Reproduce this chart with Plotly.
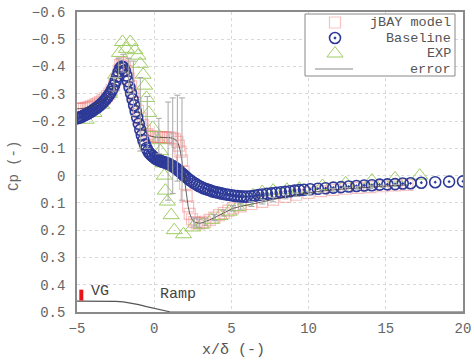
import plotly.graph_objects as go

# ---------------- data ----------------
base_x = [-5.0, -4.9, -4.8, -4.7, -4.6, -4.5, -4.4, -4.3, -4.2, -4.1, -4.0, -3.9, -3.8, -3.7, -3.6,
          -3.5, -3.4, -3.3, -3.2, -3.1, -3.0, -2.9, -2.8, -2.7, -2.6, -2.5, -2.4, -2.3, -2.2, -2.1,
          -2.0, -1.9, -1.8, -1.7, -1.6, -1.5, -1.4, -1.3, -1.2, -1.1, -1.0, -0.9, -0.8, -0.7, -0.6,
          -0.5, -0.4, -0.3, -0.2, -0.1, 0.0, 0.1, 0.2, 0.3, 0.4, 0.5, 0.6, 0.7, 0.8, 0.9,
          1.0, 1.1, 1.2, 1.3, 1.4, 1.5, 1.6, 1.7, 1.8, 1.9, 2.0, 2.15, 2.3, 2.45, 2.6,
          2.75, 2.9, 3.05, 3.2, 3.35, 3.5, 3.65, 3.8, 3.95, 4.1, 4.25, 4.4, 4.6, 4.8, 5.0,
          5.2, 5.4, 5.6, 5.8, 6.0, 6.25, 6.5, 6.75, 7.0, 7.3, 7.6, 7.9, 8.2, 8.5, 8.8,
          9.1, 9.4, 9.7, 10.1, 10.6, 11.1, 11.6, 12.1, 12.6, 13.1, 13.6, 14.1, 14.6, 15.1, 15.6,
          16.1, 16.6, 17.3, 18.2, 19.1, 20.0]
base_cp = [-0.210, -0.212, -0.214, -0.216, -0.219, -0.222, -0.225, -0.228, -0.231, -0.234, -0.238, -0.242, -0.246, -0.250, -0.254,
           -0.259, -0.264, -0.270, -0.276, -0.283, -0.290, -0.298, -0.307, -0.318, -0.331, -0.346, -0.363, -0.380, -0.394, -0.400,
           -0.397, -0.385, -0.367, -0.346, -0.324, -0.302, -0.280, -0.258, -0.236, -0.213, -0.190, -0.168, -0.148, -0.130, -0.114,
           -0.101, -0.090, -0.082, -0.076, -0.071, -0.066, -0.062, -0.059, -0.056, -0.054, -0.052, -0.050, -0.048, -0.046, -0.044,
           -0.041, -0.038, -0.035, -0.031, -0.027, -0.023, -0.018, -0.013, -0.008, -0.003, 0.002, 0.009, 0.016, 0.022, 0.028,
           0.033, 0.038, 0.042, 0.046, 0.049, 0.052, 0.055, 0.058, 0.060, 0.062, 0.064, 0.066, 0.068, 0.070, 0.072,
           0.074, 0.075, 0.076, 0.077, 0.077, 0.076, 0.074, 0.071, 0.069, 0.067, 0.065, 0.063, 0.061, 0.059, 0.057,
           0.055, 0.053, 0.052, 0.050, 0.048, 0.046, 0.044, 0.042, 0.040, 0.038, 0.036, 0.035, 0.033, 0.032, 0.031,
           0.029, 0.028, 0.026, 0.024, 0.022, 0.021]

jbay_x = [-5.0, -4.85, -4.7, -4.55, -4.4, -4.25, -4.1, -3.95, -3.8, -3.65, -3.5, -3.35, -3.2, -3.05, -2.9,
          -2.75, -2.6, -2.45, -2.3, -2.2, -2.1, -2.0, -1.9, -1.8, -1.65, -1.5, -1.35, -1.2, -1.05, -0.9,
          -0.75, -0.6, -0.45, -0.3, -0.15, 0.0, 0.15, 0.3, 0.45, 0.6, 0.75, 0.9, 1.05, 1.2, 1.35,
          1.5, 1.6, 1.7, 1.8, 1.9, 2.0, 2.1, 2.2, 2.3, 2.45, 2.6, 2.75, 2.9, 3.1, 3.3,
          3.6, 3.9, 4.2, 4.5, 4.8, 5.1, 5.6, 6.3, 7.0, 7.7, 8.5, 9.2, 10.0, 10.8, 11.6,
          12.4, 13.2, 14.0, 14.8, 15.6, 16.4]
jbay_cp = [-0.245, -0.245, -0.246, -0.247, -0.249, -0.251, -0.254, -0.257, -0.261, -0.265, -0.270, -0.276, -0.283, -0.291, -0.301,
           -0.314, -0.331, -0.354, -0.385, -0.405, -0.415, -0.412, -0.400, -0.383, -0.356, -0.327, -0.297, -0.267, -0.238, -0.210,
           -0.185, -0.165, -0.152, -0.146, -0.143, -0.142, -0.141, -0.141, -0.141, -0.141, -0.140, -0.140, -0.139, -0.137, -0.133,
           -0.124, -0.110, -0.088, -0.055, -0.015, 0.030, 0.075, 0.113, 0.140, 0.160, 0.170, 0.174, 0.175, 0.173, 0.169,
           0.162, 0.154, 0.145, 0.137, 0.128, 0.120, 0.113, 0.104, 0.096, 0.088, 0.078, 0.070, 0.063, 0.057, 0.052,
           0.048, 0.045, 0.042, 0.039, 0.036, 0.034]

# error bars of the jBAY model: position, upper end (more negative Cp) and lower end
err_x = [-2.6, -2.3, -2.0, -1.65, -1.35, -0.9, -0.45, 0.3, 0.9, 1.2, 1.5, 1.8,
         2.6, 2.9, 3.3, 3.9, 4.5, 5.1, 5.6, 6.3, 7.0, 7.7, 8.5, 9.2, 10.0, 10.8, 11.6, 12.4, 13.2, 14.0, 14.8, 15.6]
err_top = [-0.36, -0.43, -0.445, -0.43, -0.42, -0.36, -0.29, -0.21, -0.27, -0.285, -0.295, -0.285,
           0.155, 0.160, 0.156, 0.143, 0.126, 0.110, 0.103, 0.095, 0.088, 0.080, 0.071, 0.064, 0.057, 0.051, 0.047,
           0.043, 0.040, 0.037, 0.035, 0.032]
err_bot = [-0.31, -0.36, -0.38, -0.30, -0.22, -0.09, -0.10, -0.08, 0.09, 0.065, 0.02, 0.09,
           0.185, 0.190, 0.182, 0.165, 0.148, 0.130, 0.123, 0.113, 0.104, 0.096, 0.085, 0.076, 0.069, 0.063, 0.057,
           0.053, 0.050, 0.047, 0.043, 0.040]

exp_x = [-4.4, -3.9, -3.4, -2.9, -2.5, -2.25, -2.05, -1.8, -1.55, -1.25, -1.05, -0.9, -0.72, -0.62, -0.5,
         -0.35, -0.1, 0.25, 0.4, 0.55, 0.65, 0.72, 0.85, 1.1, 1.3, 1.9, 2.5, 3.07, 3.7, 4.25,
         4.85, 5.4, 5.9, 6.4, 7.0, 7.7, 8.6, 9.4, 10.9, 12.4, 14.1, 15.6, 17.2]
exp_cp = [-0.205, -0.23, -0.26, -0.30, -0.37, -0.45, -0.49, -0.465, -0.49, -0.46, -0.44, -0.41, -0.37, -0.33, -0.285,
          -0.23, -0.175, -0.13, -0.09, -0.045, 0.0, 0.055, 0.095, 0.145, 0.2, 0.215, 0.19, 0.18, 0.162, 0.148,
          0.132, 0.115, 0.095, 0.072, 0.06, 0.055, 0.052, 0.048, 0.038, 0.028, 0.018, 0.01, 0.0]

# ramp geometry sketch and vortex generator marker
ramp_x = [-5.0, -3.0, -2.5, -2.0, -1.5, -1.0, -0.5, 0.0, 0.5, 1.0, 1.3, 20.0]
ramp_y = [0.46, 0.46, 0.461, 0.463, 0.467, 0.473, 0.48, 0.487, 0.494, 0.499, 0.5, 0.5]
vg_x = [-4.72, -4.72]
vg_y = [0.418, 0.458]

x_range = [-5, 20]
y_range = [0.5, -0.6]
x_ticks = [-5, 0, 5, 10, 15, 20]
x_ticktext = ["\u22125", "0", "5", "10", "15", "20"]
y_ticks = [-0.6, -0.5, -0.4, -0.3, -0.2, -0.1, 0, 0.1, 0.2, 0.3, 0.4, 0.5]
y_ticktext = ["\u22120.6", "\u22120.5", "\u22120.4", "\u22120.3", "\u22120.2", "\u22120.1",
              "0", "0.1", "0.2", "0.3", "0.4", "0.5"]

legend_names = ["jBAY model", "Baseline", "EXP", "error"]

# ---------------- figure ----------------
MONO = "Liberation Mono, Courier New, monospace"
PINK = "rgba(238,120,120,0.45)"
NAVY = "#2e3a98"
GREEN = "rgb(160,205,100)"
ERRC = "#b0b0b0"

# plot area in pixels
L, R, T, B = 77, 463, 12, 312
W, H = 474, 363


def px_to_x(px):
    return x_range[0] + (px - L) / (R - L) * (x_range[1] - x_range[0])


def py_to_y(py):
    return y_range[1] + (py - T) / (B - T) * (y_range[0] - y_range[1])


jbay_lookup = dict(zip(jbay_x, jbay_cp))
err_mid = [jbay_lookup[x] for x in err_x]
err_plus = [b - m for b, m in zip(err_bot, err_mid)]
err_minus = [m - t for t, m in zip(err_top, err_mid)]

fig = go.Figure()

fig.add_trace(go.Scatter(x=ramp_x, y=ramp_y, mode="lines", line=dict(color="#555555", width=1.2),
                         showlegend=False, hoverinfo="skip"))
fig.add_trace(go.Scatter(x=vg_x, y=vg_y, mode="lines", line=dict(color="#e8141c", width=4),
                         showlegend=False, hoverinfo="skip"))
fig.add_trace(go.Scatter(
    x=jbay_x, y=jbay_cp, mode="markers", name=legend_names[0], showlegend=False,
    marker=dict(symbol="square-open", size=11, color=PINK, line=dict(width=1.2))))
fig.add_trace(go.Scatter(
    x=exp_x, y=exp_cp, mode="markers", name=legend_names[2], showlegend=False,
    marker=dict(symbol="triangle-up-open", size=14, color=GREEN, line=dict(width=1))))
fig.add_trace(go.Scatter(
    x=base_x, y=base_cp, mode="markers", name=legend_names[1], showlegend=False,
    marker=dict(symbol="circle-open-dot", size=11, color=NAVY, line=dict(width=1.6))))
fig.add_trace(go.Scatter(x=jbay_x, y=jbay_cp, mode="lines", line=dict(color="#3c3c3c", width=0.8),
                         showlegend=False, hoverinfo="skip"))
fig.add_trace(go.Scatter(
    x=err_x, y=err_mid, mode="markers", showlegend=False, name=legend_names[3],
    marker=dict(size=1, color="rgba(0,0,0,0)"),
    error_y=dict(type="data", symmetric=False, array=err_plus, arrayminus=err_minus,
                 color="#a8a8a8", thickness=1, width=3)))

# ---- legend key, drawn on hidden overlay axes in pixel units ----
leg_box = (305, 455, 14, 76)
leg_rows = [22.5, 38, 53.5, 69]
leg_sym_x = 335
leg_line = (315, 353)
leg_text_x = 453
sym_styles = [
    dict(symbol="square-open", size=11, color=PINK, line=dict(width=1.2)),
    dict(symbol="circle-open-dot", size=11, color=NAVY, line=dict(width=1.6)),
    dict(symbol="triangle-up-open", size=14, color=GREEN, line=dict(width=1)),
]
for st, ry in zip(sym_styles, leg_rows[:3]):
    fig.add_trace(go.Scatter(x=[leg_sym_x], y=[ry], xaxis="x2", yaxis="y2", mode="markers",
                             marker=st, showlegend=False, hoverinfo="skip"))
fig.add_trace(go.Scatter(x=list(leg_line), y=[leg_rows[3]] * 2, xaxis="x2", yaxis="y2", mode="lines",
                         line=dict(color=ERRC, width=1.5), showlegend=False, hoverinfo="skip"))

annotations = [
    dict(text=n, x=leg_text_x, y=ry, xref="x2", yref="y2", xanchor="right", yanchor="middle",
         showarrow=False, font=dict(family=MONO, size=13.5, color="#555555"))
    for n, ry in zip(legend_names, leg_rows)
]
annotations += [
    dict(text="Cp (-)", xref="paper", yref="paper", x=(14 - L) / (R - L), y=(B - 166) / (B - T),
         xanchor="center", yanchor="middle", textangle=-90,
         showarrow=False, font=dict(family=MONO, size=14, color="#666666")),
    dict(text="x/\u03b4 (-)", xref="paper", yref="paper", x=(233 - L) / (R - L), y=(B - 350) / (B - T),
         xanchor="center", yanchor="middle",
         showarrow=False, font=dict(family=MONO, size=15, color="#555555")),
    dict(text="VG", x=-4.2, y=0.424, xref="x", yref="y", xanchor="left", yanchor="middle", showarrow=False,
         font=dict(family=MONO, size=15, color="#444444")),
    dict(text="Ramp", x=0.25, y=0.436, xref="x", yref="y", xanchor="left", yanchor="middle", showarrow=False,
         font=dict(family=MONO, size=15, color="#444444")),
]

axis_common = dict(showgrid=True, gridcolor="#d8d8d8", griddash="dot", gridwidth=1, automargin=False,
                   zeroline=False, showline=True, linecolor="#8a8a8a", linewidth=1.5, mirror=True,
                   tickfont=dict(family=MONO, size=14, color="#666666"))

fig.update_layout(
    width=W, height=H,
    margin=dict(l=L, r=W - R, t=T, b=H - B),
    plot_bgcolor="white", paper_bgcolor="white",
    xaxis=dict(range=x_range, tickvals=x_ticks, ticktext=x_ticktext, ticks="", ticklabelstandoff=2,
               **axis_common),
    yaxis=dict(range=y_range, tickvals=y_ticks, ticktext=y_ticktext, ticks="outside", ticklen=7,
               tickcolor="rgba(0,0,0,0)", **axis_common),
    xaxis2=dict(overlaying="x", anchor="y2", range=[L, R], visible=False, fixedrange=True),
    yaxis2=dict(overlaying="y", anchor="x2", range=[B, T], visible=False, fixedrange=True),
    showlegend=False,
    shapes=[dict(type="rect", xref="x", yref="y",
                 x0=px_to_x(leg_box[0]), x1=px_to_x(leg_box[1]),
                 y0=py_to_y(leg_box[2]), y1=py_to_y(leg_box[3]),
                 fillcolor="white", line=dict(color="#888888", width=1), layer="between")],
    annotations=annotations,
)

fig.write_html("out.html", config={"displayModeBar": False},
               post_script="document.body.style.margin='0';")
